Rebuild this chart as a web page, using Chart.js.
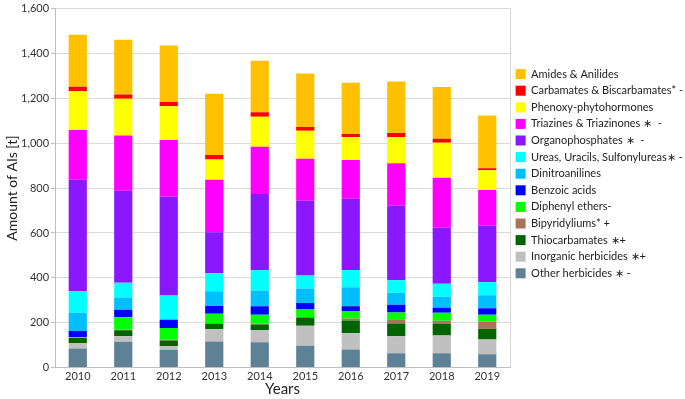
<!DOCTYPE html>
<html>
<head>
<meta charset="utf-8">
<script src="https://cdn.jsdelivr.net/npm/chart.js@4"></script>
<style>
  html, body { margin: 0; padding: 0; background: #fff; }
  #wrap { width: 685px; height: 399px; }
</style>
</head>
<body>
<div id="wrap"><canvas id="herbChart"></canvas></div>
<script>
// years on the x axis
var years = ['2010', '2011', '2012', '2013', '2014', '2015', '2016', '2017', '2018', '2019'];

// amounts in tonnes, stacked bottom -> top
var otherHerbicides = [85, 115, 79, 116, 113, 97, 81, 64, 64, 60];
var inorganic = [25, 25, 16, 55, 53, 89, 72, 76, 79, 65];
var thiocarbamates = [22, 26, 26, 24, 26, 35, 57, 57, 51, 48];
var bipyridyliums = [2, 3, 3, 4, 5, 4, 9, 18, 15, 31];
var diphenylEthers = [2, 55, 52, 41, 39, 34, 33, 31, 36, 32];
var benzoicAcids = [27, 34, 37, 34, 37, 29, 21, 34, 22, 28];
var dinitroanilines = [82, 54, 2, 66, 71, 64, 85, 54, 49, 58];
var ureas = [95, 66, 106, 80, 90, 58, 76, 55, 58, 58];
var organophosphates = [497, 410, 441, 183, 340, 334, 318, 333, 249, 252];
var triazines = [222, 246, 252, 234, 210, 187, 173, 189, 223, 160];
var phenoxy = [173, 164, 151, 90, 134, 125, 103, 117, 156, 88];
var carbamates = [20, 19, 19, 20, 20, 16, 13, 18, 18, 9];
var amides = [231, 244, 252, 274, 230, 239, 228, 229, 231, 235];

var yTicks = [0, 200, 400, 600, 800, 1000, 1200, 1400, 1600];

function ds(label, data, color) {
    return { label: label, data: data, backgroundColor: color, borderWidth: 0 };
}

// thin grey line on the right side of the plot
var rightBorder = {
    id: 'rightBorder',
    afterDraw: function(chart) {
        var a = chart.chartArea, c = chart.ctx;
        c.save();
        c.strokeStyle = '#d9d9d9';
        c.lineWidth = 1;
        c.beginPath();
        c.moveTo(Math.round(a.right) + 0.5, a.top);
        c.lineTo(Math.round(a.right) + 0.5, a.bottom);
        c.stroke();
        c.restore();
    }
};

var ctx = document.getElementById('herbChart').getContext('2d');
var herbChart = new Chart(ctx, {
    type: 'bar',
    data: {
        labels: years,
        datasets: [
            ds('Other herbicides \u2217 -', otherHerbicides, '#5e8196'),
            ds('Inorganic herbicides \u2217+', inorganic, '#c0c0c0'),
            ds('Thiocarbamates \u2217+', thiocarbamates, '#006400'),
            ds('Bipyridyliums* +', bipyridyliums, '#a8755a'),
            ds('Diphenyl ethers-', diphenylEthers, '#00ff00'),
            ds('Benzoic acids', benzoicAcids, '#0000ff'),
            ds('Dinitroanilines', dinitroanilines, '#00bfff'),
            ds('Ureas, Uracils, Sulfonylureas\u2217 -', ureas, '#00ffff'),
            ds('Organophosphates \u2217  -', organophosphates, '#8b17ff'),
            ds('Triazines & Triazinones \u2217  -', triazines, '#ff00ff'),
            ds('Phenoxy-phytohormones', phenoxy, '#ffff00'),
            ds('Carbamates & Biscarbamates* -', carbamates, '#ff0000'),
            ds('Amides & Anilides', amides, '#ffc000')
        ]
    },
    options: {
        responsive: true,
        maintainAspectRatio: false,
        animation: false,
        layout: { padding: { top: 0, right: 0, bottom: 0, left: 0 } },
        datasets: { bar: { categoryPercentage: 0.8, barPercentage: 0.5 } },
        plugins: {
            tooltip: { enabled: false },
            legend: {
                position: 'right',
                align: 'start',
                reverse: true,
                maxWidth: 175,
                title: { display: true, text: ' ', padding: { top: 51, bottom: 0 }, font: { size: 10 } },
                labels: {
                    boxWidth: 10,
                    boxHeight: 10,
                    padding: 5.6,
                    color: '#222',
                    font: { family: 'Lato', size: 11 }
                }
            }
        },
        scales: {
            x: {
                stacked: true,
                grid: { display: false, drawTicks: false },
                border: { color: '#bfbfbf' },
                ticks: { color: '#333', font: { family: 'Lato', size: 11, lineHeight: 0.4 }, padding: 6.5 },
                title: { display: true, text: 'Years', color: '#222', font: { family: 'Lato', size: 15, lineHeight: 0.6 }, padding: { top: 0, bottom: 5 } }
            },
            y: {
                stacked: true,
                min: 0,
                max: 1600,
                afterBuildTicks: function(axis) {
                    axis.ticks = yTicks.map(function(v) { return { value: v }; });
                },
                grid: { color: '#d9d9d9', tickColor: '#bfbfbf', tickLength: 4 },
                border: { color: '#bfbfbf' },
                ticks: {
                    color: '#333',
                    font: { family: 'Lato', size: 11 },
                    padding: 2,
                    callback: function(v) { return v.toLocaleString('en-US'); }
                },
                title: { display: true, text: 'Amount of AIs [t]', color: '#222', font: { family: 'Lato', size: 14, lineHeight: 1 }, padding: { top: 5, bottom: 0 } }
            }
        }
    },
    plugins: [rightBorder]
});
</script>
</body>
</html>
